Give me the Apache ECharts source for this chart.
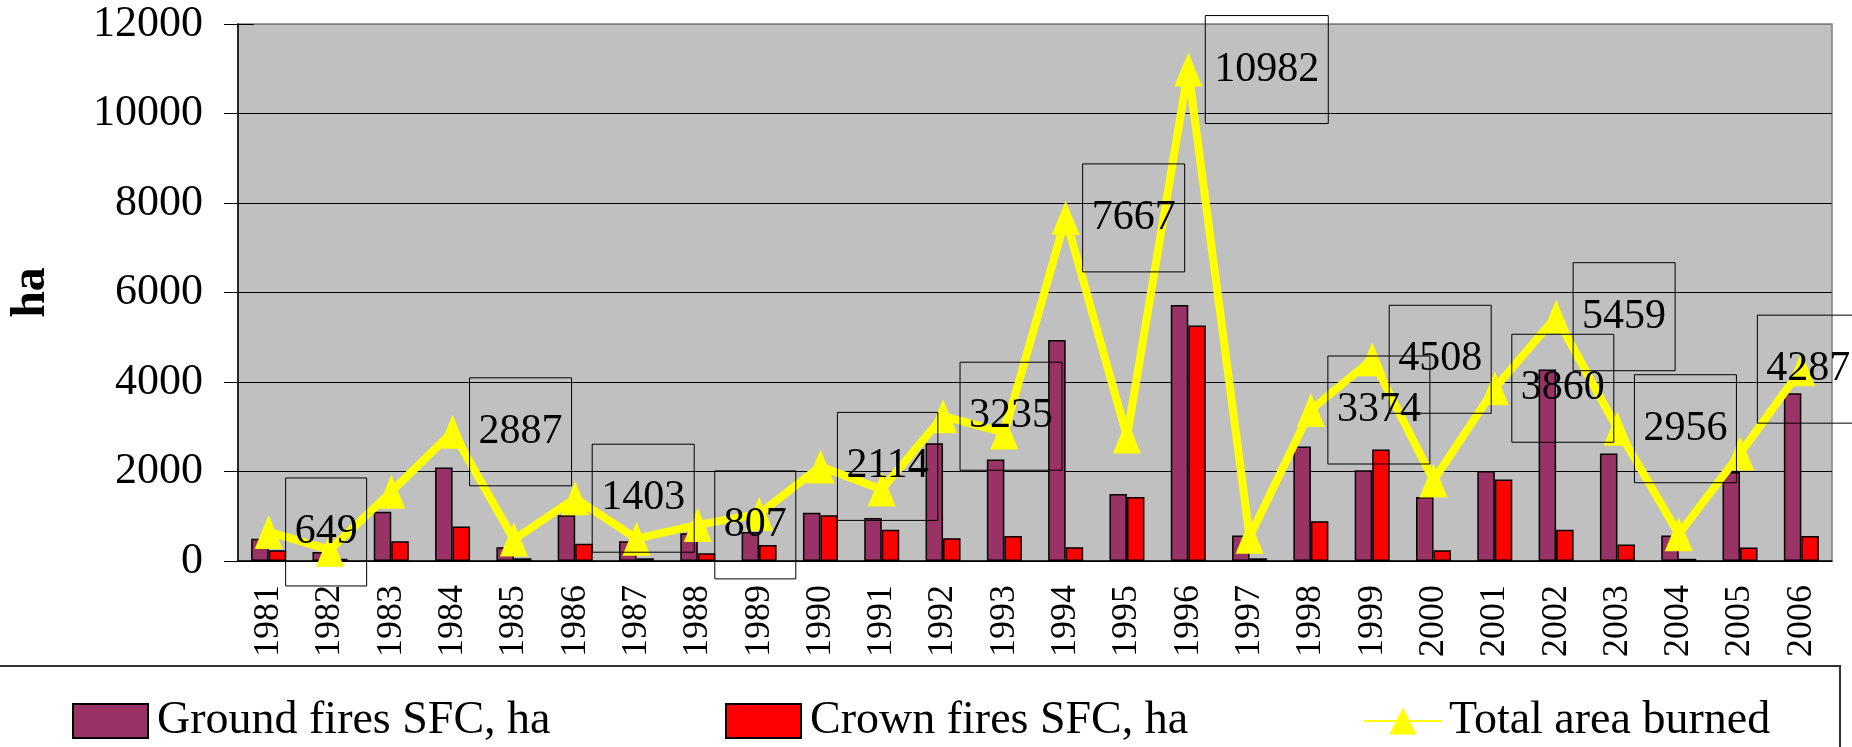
<!DOCTYPE html>
<html lang="en">

<head>
  <meta charset="UTF-8">
  <title>Fires SFC</title>
  <script src="https://cdn.jsdelivr.net/npm/echarts@6/dist/echarts.min.js"></script>
</head>
<style>
  * {
    margin: 0px;
    padding: 0px;
  }

  body {
    background: #fff;
  }

  #chart {
    width: 1852px;
    height: 747px;
  }
</style>

<body>
  <div id="chart"></div>
</body>
<script>
  var years = ['1981', '1982', '1983', '1984', '1985', '1986', '1987', '1988', '1989', '1990', '1991', '1992', '1993',
    '1994', '1995', '1996', '1997', '1998', '1999', '2000', '2001', '2002', '2003', '2004', '2005', '2006']
  var ground = [500, 200, 1100, 2090, 310, 1020, 440, 620, 650, 1080, 960, 2630, 2270,
    4940, 1500, 5720, 570, 2560, 2030, 1430, 2010, 4280, 2400, 570, 1990, 3750]
  var crown = [240, 50, 440, 770, 60, 385, 60, 175, 360, 1020, 700, 510, 560,
    310, 1430, 5260, 60, 890, 2490, 240, 1820, 700, 370, 50, 300, 560]
  var total = [649, 250, 1550, 2887, 480, 1403, 500, 807, 1050, 2114, 1600, 3235, 2870,
    7667, 2780, 10982, 540, 3374, 4508, 1800, 3860, 5459, 2956, 600, 2400, 4287]
  // years whose total carries a boxed value label
  var labeledYears = ['1981', '1984', '1986', '1988', '1990', '1992', '1994', '1996', '1998', '1999',
    '2001', '2002', '2003', '2006']
  var yTicks = [0, 2000, 4000, 6000, 8000, 10000, 12000]

  var serif = '"Liberation Serif", "Times New Roman", serif'

  var totalData = total.map(function (v, i) {
    var item = { value: v }
    if (labeledYears.indexOf(years[i]) >= 0) {
      item.label = { show: true }
      // last box sits one step left so it stays inside the picture
      if (i === years.length - 1) item.label.offset = [-61, 0]
    }
    return item
  })

  var chart = echarts.init(document.getElementById('chart'))
  chart.setOption({
    animation: false,
    backgroundColor: '#fff',
    grid: {
      left: 238,
      top: 24,
      right: 20,
      bottom: 186,
      outerBoundsMode: 'none',
      containLabel: false,
      show: true,
      backgroundColor: '#C0C0C0',
      borderColor: '#808080',
      borderWidth: 1.5
    },
    legend: [{
      left: 67,
      top: 693,
      itemWidth: 75,
      itemHeight: 34,
      icon: 'rect',
      data: ['Ground fires SFC, ha'],
      textStyle: { fontFamily: serif, fontSize: 46, color: '#000', padding: [6, 0, 0, 4] }
    }, {
      left: 720,
      top: 693,
      itemWidth: 75,
      itemHeight: 34,
      icon: 'rect',
      data: ['Crown fires SFC, ha'],
      textStyle: { fontFamily: serif, fontSize: 46, color: '#000', padding: [6, 0, 0, 4] }
    }, {
      left: 1358,
      top: 693,
      itemWidth: 78,
      itemHeight: 34,
      data: ['Total area burned'],
      textStyle: { fontFamily: serif, fontSize: 46, color: '#000', padding: [6, 0, 0, 2] }
    }],
    graphic: [{
      type: 'rect',
      shape: { x: -2, y: 666, width: 1842, height: 120 },
      style: { fill: 'none', stroke: '#333', lineWidth: 2 },
      silent: true
    }],
    xAxis: [{
      type: 'category',
      data: years,
      axisLine: { lineStyle: { color: '#000', width: 1.5 } },
      axisTick: { length: 11, lineStyle: { color: '#000' } },
      axisLabel: {
        rotate: 90,
        margin: 24,
        fontFamily: serif,
        fontSize: 36,
        color: '#000'
      }
    }, {
      type: 'category',
      data: years,
      position: 'bottom',
      axisLine: { show: false },
      axisTick: { inside: true, length: 14, lineStyle: { color: '#000' } },
      axisLabel: { show: false }
    }],
    yAxis: [{
      type: 'value',
      min: 0,
      max: 12000,
      interval: 2000,
      name: 'ha',
      nameLocation: 'middle',
      nameGap: 182,
      nameTextStyle: { fontFamily: serif, fontSize: 48, fontWeight: 'bold', color: '#000' },
      axisLine: { show: true, lineStyle: { color: '#000', width: 1.5 } },
      axisTick: { show: true, length: 14, lineStyle: { color: '#000' } },
      axisLabel: {
        margin: 35,
        fontFamily: serif,
        fontSize: 44,
        color: '#000',
        formatter: function (v) { return yTicks.indexOf(v) >= 0 ? String(v) : '' }
      },
      splitLine: {
        lineStyle: {
          color: ['#000', '#000', '#000', '#000', '#000', '#000', '#808080'],
          width: 1.2
        }
      }
    }, {
      type: 'value',
      min: 0,
      max: 12000,
      interval: 2000,
      position: 'left',
      axisLine: { show: false },
      axisTick: { show: true, inside: true, length: 16, lineStyle: { color: '#000' } },
      axisLabel: { show: false },
      splitLine: { show: false }
    }],
    series: [{
      name: 'Ground fires SFC, ha',
      type: 'bar',
      data: ground,
      barWidth: 17.5,
      barGap: '0%',
      itemStyle: { color: '#993366', borderColor: '#000', borderWidth: 1.5 }
    }, {
      name: 'Crown fires SFC, ha',
      type: 'bar',
      data: crown,
      barWidth: 17.5,
      barGap: '0%',
      itemStyle: { color: '#FF0000', borderColor: '#000', borderWidth: 1.5 }
    }, {
      name: 'Total area burned',
      type: 'line',
      data: totalData,
      z: 5,
      symbol: 'triangle',
      symbolSize: [28, 34],
      lineStyle: { color: '#FFFF00', width: 8 },
      itemStyle: { color: '#FFFF00' },
      label: {
        show: false,
        position: 'right',
        distance: 3,
        fontFamily: serif,
        fontSize: 42,
        color: '#000',
        height: 96,
        padding: [12, 9, 0, 9],
        verticalAlign: 'middle',
        borderColor: '#000',
        borderWidth: 1
      }
    }]
  });
</script>

</html>
